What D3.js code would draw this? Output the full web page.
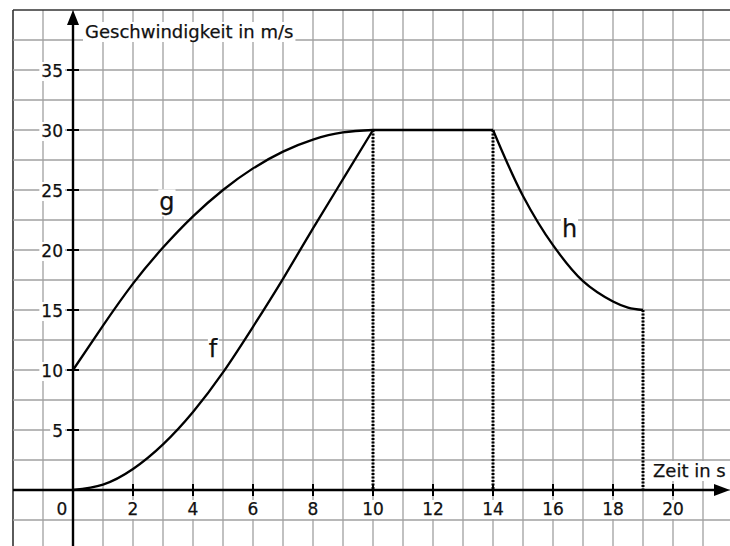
<!DOCTYPE html>
<html><head><meta charset="utf-8">
<script src="https://cdn.jsdelivr.net/npm/d3@7"></script>
<style>html,body{margin:0;padding:0;background:#fff;overflow:hidden}</style>
</head><body>
<svg id="c" width="730" height="546"></svg>
<script>
// ---- data ----
const fX = [0,1,2,3,4,5,6,7,8,9,10];
const fY = [0,0.45,1.75,3.8,6.5,9.8,13.6,17.6,21.8,25.9,30];
const gX = [0,1,2,3,4,5,6,7,8,9,10];
const gY = [10,13.7,17.2,20.2,22.8,25,26.8,28.2,29.2,29.8,30];
const plateauX = [10,14];
const plateauY = [30,30];
const hX = [14,15,16,17,18,18.5,19];
const hY = [30,24.5,20.4,17.4,15.7,15.2,15];
const dropX = [10,14,19];
const dropY = [30,30,15];
const xTicks = [0,2,4,6,8,10,12,14,16,18,20];
const yTicks = [5,10,15,20,25,30,35];
const curveLabels = ["g","f","h"];
const curveLabelX = [3.13,4.67,16.55];
const curveLabelY = [23.3,11.1,21.1];
const yTitle = "Geschwindigkeit in m/s";
const xTitle = "Zeit in s";

const W = 730, H = 546;
const svg = d3.select("#c");
const x = d3.scaleLinear().domain([0,20]).range([73,673]);
const y = d3.scaleLinear().domain([0,35]).range([490,70]);
const FONT = "DejaVu Sans, Verdana, sans-serif";

svg.append("rect").attr("width",W).attr("height",H).attr("fill","#fff");

// grid
const gridV = d3.range(-2, 22, 1);
const gridH = d3.range(-2.5, 40.01, 2.5);
const grid = svg.append("g");
grid.selectAll("line.v").data(gridV).join("line")
  .attr("x1",d=>x(d)).attr("x2",d=>x(d))
  .attr("y1",y(40)).attr("y2",H)
  .attr("stroke",d=>d===-2?"#333":"#a0a0a0")
  .attr("stroke-width",d=>d===-2?1.6:1.3);
grid.selectAll("line.h").data(gridH).join("line")
  .attr("y1",d=>y(d)).attr("y2",d=>y(d))
  .attr("x1",x(-2)).attr("x2",W)
  .attr("stroke",d=>d===40?"#333":"#a0a0a0")
  .attr("stroke-width",d=>d===40?1.6:1.3);

// text with white background helper
function bgText(parent, txt, px, py, anchor, size, pad){
  const g = parent.append("g");
  const r = g.append("rect").attr("fill","#fff");
  const t = g.append("text").attr("x",px).attr("y",py)
    .attr("text-anchor",anchor).attr("font-family",FONT)
    .attr("font-size",size).attr("fill","#111")
    .attr("stroke","#111").attr("stroke-width",0.25).text(txt);
  const b = t.node().getBBox();
  r.attr("x",b.x-pad).attr("y",b.y+1).attr("width",b.width+2*pad).attr("height",b.height-1);
  return g;
}

// dotted verticals
svg.append("g").selectAll("line").data(dropX).join("line")
  .attr("x1",d=>x(d)).attr("x2",d=>x(d))
  .attr("y1",(d,i)=>y(dropY[i])).attr("y2",y(0))
  .attr("stroke","#000").attr("stroke-width",3)
  .attr("stroke-dasharray","2,1.5");

// axes
const ax = svg.append("g");
ax.append("line").attr("x1",x(-2)).attr("x2",W-8).attr("y1",y(0)).attr("y2",y(0))
  .attr("stroke","#000").attr("stroke-width",2.4);
ax.append("path").attr("d",`M${W},${y(0)} L${W-16},${y(0)-6} L${W-16},${y(0)+6} Z`).attr("fill","#000");
ax.append("line").attr("x1",x(0)).attr("x2",x(0)).attr("y1",H).attr("y2",y(40)+8)
  .attr("stroke","#000").attr("stroke-width",2.4);
ax.append("path").attr("d",`M${x(0)},${y(40)} L${x(0)-6},${y(40)+15} L${x(0)+6},${y(40)+15} Z`).attr("fill","#000");

// ticks
ax.selectAll("line.tx").data(xTicks.filter(d=>d!==0)).join("line")
  .attr("x1",d=>x(d)).attr("x2",d=>x(d)).attr("y1",y(0)-6).attr("y2",y(0)+6)
  .attr("stroke","#000").attr("stroke-width",2);
ax.selectAll("line.ty").data(yTicks).join("line")
  .attr("y1",d=>y(d)).attr("y2",d=>y(d)).attr("x1",x(0)-6).attr("x2",x(0)+6)
  .attr("stroke","#000").attr("stroke-width",2);

xTicks.forEach(d=>{
  bgText(svg, String(d), x(d) + (d===0?-11:0), y(0)+25, "middle", 17, 2);
});
yTicks.forEach(d=>{
  bgText(svg, String(d), x(0)-10, y(d)+7, "end", 17, 2);
});

// curves
const line = d3.line().x(d=>x(d[0])).y(d=>y(d[1])).curve(d3.curveNatural);
const lineH = d3.line().x(d=>x(d[0])).y(d=>y(d[1])).curve(d3.curveCatmullRom.alpha(0.5));
const lineL = d3.line().x(d=>x(d[0])).y(d=>y(d[1]));
const curves = svg.append("g").attr("fill","none").attr("stroke","#000").attr("stroke-width",2.3);
curves.append("path").attr("d",line(fX.map((v,i)=>[v,fY[i]])));
curves.append("path").attr("d",line(gX.map((v,i)=>[v,gY[i]])));
curves.append("path").attr("d",lineL(plateauX.map((v,i)=>[v,plateauY[i]])));
curves.append("path").attr("d",lineH(hX.map((v,i)=>[v,hY[i]])));

// curve labels
curveLabels.forEach((t,i)=>{
  bgText(svg, t, x(curveLabelX[i]), y(curveLabelY[i]), "middle", 24, 1);
});

// axis titles
bgText(svg, yTitle, 85, 38, "start", 18, 2);
bgText(svg, xTitle, 653, 477, "start", 18, 2);
</script>
</body></html>
